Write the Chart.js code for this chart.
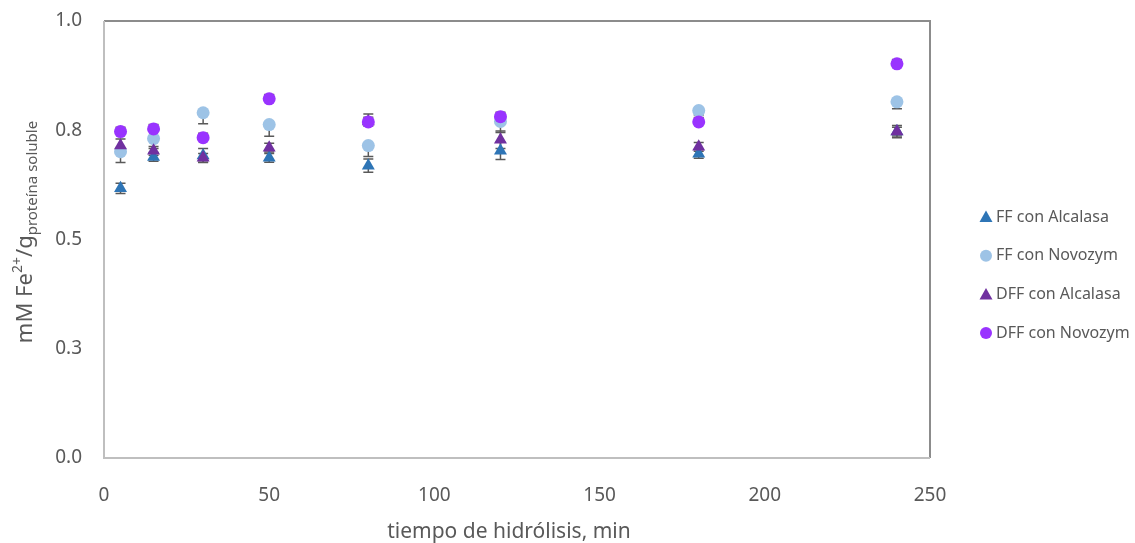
<!DOCTYPE html>
<html lang="es">
<head>
<meta charset="UTF-8">
<title>Fe2+ - tiempo de hidrólisis</title>
<script src="https://cdn.jsdelivr.net/npm/chart.js@4.4.1/dist/chart.umd.min.js"></script>
<style>
    html, body { margin: 0; padding: 0; background: #fff; }
    #wrap { width: 1135px; height: 543px; }
</style>
</head>
<body>
<div id="wrap"><canvas id="chart" width="1135" height="543"></canvas></div>
<script>
// tiempos de hidrólisis (min)
const tiempos = [5, 15, 30, 50, 80, 120, 180, 240];
const seriesNames = ['FF con Alcalasa', 'FF con Novozym', 'DFF con Alcalasa', 'DFF con Novozym'];

// mM Fe2+ / g proteína soluble
const ffAlcalasa  = [0.617, 0.689, 0.692, 0.687, 0.669, 0.703, 0.696, 0.747];
const ffNovozym   = [0.701, 0.731, 0.790, 0.763, 0.715, 0.770, 0.795, 0.815];
const dffAlcalasa = [0.715, 0.703, 0.687, 0.710, 0.770, 0.728, 0.712, 0.747];
const dffNovozym  = [0.747, 0.753, 0.733, 0.822, 0.769, 0.781, 0.769, 0.902];

// desviaciones
const ffAlcalasaErr  = [0.012, 0.010, 0.016, 0.010, 0.015, 0.020, 0.010, 0.010];
const ffNovozymErr   = [0.025, 0.023, 0.025, 0.027, 0.025, 0.025, 0.010, 0.016];
const dffAlcalasaErr = [0.015, 0.010, 0.010, 0.010, 0.010, 0.020, 0.010, 0.014];
const dffNovozymErr  = [0.010, 0.010, 0.010, 0.010, 0.018, 0.010, 0.010, 0.010];
// which side of each series shows its error bar
const errSides = ['both', 'minus', 'both', 'plus'];

const xTicks = [0, 50, 100, 150, 200, 250];
const yTickLabels = ['0.0', '0.3', '0.5', '0.8', '1.0'];

const colors = ['#2E75B6', '#9DC3E6', '#7030A0', '#9933FF'];
const styles = ['triangle', 'circle', 'triangle', 'circle'];
const values = [ffAlcalasa, ffNovozym, dffAlcalasa, dffNovozym];
const errors = [ffAlcalasaErr, ffNovozymErr, dffAlcalasaErr, dffNovozymErr];

const FONT = "'Noto Sans', sans-serif";
const GREY = '#595959';

const datasets = values.map((vals, i) => ({
    label: seriesNames[i],
    data: tiempos.map((t, j) => ({ x: t, y: vals[j] })),
    errors: errors[i],
    errSide: errSides[i],
    showLine: false,
    pointStyle: styles[i],
    pointRadius: styles[i] === 'triangle' ? 7.5 : 6.5,
    backgroundColor: colors[i],
    borderColor: colors[i],
    borderWidth: 0,
    order: 4 - i   // later series drawn on top, like Excel
}));

// error bars drawn under the markers
const errorBars = {
    id: 'errorBars',
    beforeDatasetsDraw(chart) {
        const ctx = chart.ctx, y = chart.scales.y;
        ctx.save();
        ctx.strokeStyle = GREY;
        ctx.lineWidth = 1.5;
        chart.data.datasets.forEach((ds, i) => {
            chart.getDatasetMeta(i).data.forEach((pt, j) => {
                const v = ds.data[j].y, e = ds.errors[j];
                const hi = ds.errSide === 'minus' ? v : v + e;
                const lo = ds.errSide === 'plus' ? v : v - e;
                const top = y.getPixelForValue(hi), bot = y.getPixelForValue(lo);
                ctx.beginPath();
                ctx.moveTo(pt.x, top); ctx.lineTo(pt.x, bot);
                if (ds.errSide !== 'minus') { ctx.moveTo(pt.x - 5, top); ctx.lineTo(pt.x + 5, top); }
                if (ds.errSide !== 'plus') { ctx.moveTo(pt.x - 5, bot); ctx.lineTo(pt.x + 5, bot); }
                ctx.stroke();
            });
        });
        ctx.restore();
    }
};

// plot area frame, axis titles and legend
const decor = {
    id: 'decor',
    afterDraw(chart) {
        const ctx = chart.ctx, a = chart.chartArea;
        ctx.save();
        ctx.lineWidth = 2;
        ctx.strokeStyle = '#8C8C8C';
        ctx.beginPath();
        ctx.moveTo(a.left, a.top); ctx.lineTo(a.right, a.top); ctx.lineTo(a.right, a.bottom);
        ctx.stroke();
        ctx.strokeStyle = '#BFBFBF';
        ctx.beginPath();
        ctx.moveTo(a.left, a.top); ctx.lineTo(a.left, a.bottom); ctx.lineTo(a.right, a.bottom);
        ctx.stroke();

        // x title
        ctx.fillStyle = GREY;
        ctx.font = '21px ' + FONT;
        ctx.textAlign = 'center';
        ctx.textBaseline = 'middle';
        ctx.fillText('tiempo de hidrólisis, min', 509, 532);

        // y title: mM Fe2+/g proteína soluble
        const parts = [
            { t: 'mM Fe', size: 22, dy: 0 },
            { t: '2+', size: 14, dy: -10 },
            { t: '/g', size: 22, dy: 0 },
            { t: 'proteína soluble', size: 15, dy: 5 }
        ];
        let total = 0;
        parts.forEach(p => { ctx.font = p.size + 'px ' + FONT; p.w = ctx.measureText(p.t).width; total += p.w; });
        ctx.translate(32, 232);
        ctx.rotate(-Math.PI / 2);
        ctx.textAlign = 'left';
        ctx.textBaseline = 'alphabetic';
        let x = -total / 2;
        parts.forEach(p => {
            ctx.font = p.size + 'px ' + FONT;
            ctx.fillText(p.t, x, p.dy);
            x += p.w;
        });
        ctx.setTransform(1, 0, 0, 1, 0, 0);

        // legend
        ctx.font = '16px ' + FONT;
        ctx.textAlign = 'left';
        ctx.textBaseline = 'middle';
        seriesNames.forEach((name, i) => {
            const ly = 217 + i * 38.7, lx = 986;
            ctx.fillStyle = colors[i];
            ctx.beginPath();
            if (styles[i] === 'triangle') {
                ctx.moveTo(lx, ly - 6.5); ctx.lineTo(lx + 6.5, ly + 5); ctx.lineTo(lx - 6.5, ly + 5);
                ctx.closePath();
            } else {
                ctx.arc(lx, ly, 6, 0, Math.PI * 2);
            }
            ctx.fill();
            ctx.fillStyle = GREY;
            ctx.fillText(name, lx + 10, ly);
        });
        ctx.restore();
    }
};

new Chart(document.getElementById('chart'), {
    type: 'scatter',
    data: { datasets },
    options: {
        responsive: false,
        animation: false,
        layout: { padding: { top: 21, right: 205, left: 0, bottom: 0 } },
        plugins: { legend: { display: false }, tooltip: { enabled: false } },
        scales: {
            x: {
                type: 'linear',
                min: 0, max: 250,
                afterFit: s => { s.height = 85; s.paddingLeft = 0; s.paddingRight = 0; },
                afterBuildTicks: s => { s.ticks = xTicks.map(v => ({ value: v })); },
                grid: { display: false },
                border: { display: false },
                ticks: { color: GREY, padding: 18, font: { family: FONT, size: 19 } }
            },
            y: {
                min: 0, max: 1,
                afterFit: s => { s.width = 104; s.paddingTop = 0; s.paddingBottom = 0; },
                grid: { display: false },
                border: { display: false },
                ticks: {
                    stepSize: 0.25,
                    color: GREY,
                    padding: 14,
                    font: { family: FONT, size: 19 },
                    callback: (v, i) => yTickLabels[i]
                }
            }
        }
    },
    plugins: [errorBars, decor]
});
</script>
</body>
</html>
